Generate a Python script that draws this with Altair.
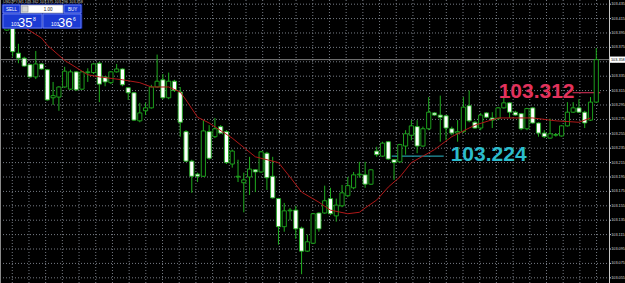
import altair as alt
import pandas as pd

# ---------------- data (USDJPY M1 candles) ----------------
candle_idx = list(range(103))
open_ = [103.399, 103.403, 103.367, 103.360, 103.351, 103.334, 103.352, 103.344, 103.305, 103.306,
         103.320, 103.317, 103.341, 103.317, 103.340, 103.340, 103.353, 103.334, 103.326, 103.341,
         103.345, 103.319, 103.312, 103.273, 103.287, 103.291, 103.320, 103.330, 103.305, 103.328,
         103.313, 103.258, 103.217, 103.199, 103.196, 103.258, 103.251, 103.265, 103.258, 103.213,
         103.195, 103.187, 103.195, 103.205, 103.202, 103.228, 103.196, 103.165, 103.126, 103.148,
         103.149, 103.124, 103.092, 103.103, 103.145, 103.145, 103.165, 103.141, 103.155, 103.169,
         103.180, 103.198, 103.198, 103.185, 103.231, 103.224, 103.244, 103.219, 103.216, 103.238,
         103.253, 103.265, 103.238, 103.262, 103.284, 103.281, 103.280, 103.262, 103.256, 103.258,
         103.294, 103.271, 103.263, 103.284, 103.277, 103.276, 103.291, 103.298, 103.285, 103.283,
         103.262, 103.291, 103.270, 103.256, 103.249, 103.253, 103.252, 103.266, 103.285, 103.291,
         103.285, 103.274, 103.299]
high = [103.406, 103.408, 103.380, 103.362, 103.352, 103.370, 103.353, 103.345, 103.327, 103.321,
        103.348, 103.344, 103.342, 103.342, 103.346, 103.353, 103.355, 103.335, 103.342, 103.352,
        103.346, 103.320, 103.313, 103.298, 103.298, 103.323, 103.365, 103.338, 103.340, 103.330,
        103.320, 103.260, 103.219, 103.201, 103.274, 103.267, 103.277, 103.267, 103.260, 103.233,
        103.219, 103.201, 103.223, 103.206, 103.231, 103.230, 103.223, 103.166, 103.159, 103.152,
        103.155, 103.126, 103.115, 103.145, 103.146, 103.183, 103.180, 103.165, 103.184, 103.195,
        103.202, 103.216, 103.216, 103.206, 103.237, 103.244, 103.245, 103.220, 103.241, 103.260,
        103.274, 103.274, 103.265, 103.306, 103.285, 103.308, 103.281, 103.265, 103.274, 103.306,
        103.315, 103.273, 103.284, 103.285, 103.285, 103.292, 103.305, 103.299, 103.287, 103.284,
        103.291, 103.292, 103.271, 103.260, 103.276, 103.256, 103.267, 103.299, 103.299, 103.303,
        103.287, 103.306, 103.374]
low = [103.398, 103.362, 103.353, 103.348, 103.333, 103.331, 103.344, 103.301, 103.295, 103.287,
       103.319, 103.316, 103.315, 103.316, 103.327, 103.338, 103.299, 103.321, 103.324, 103.340,
       103.321, 103.302, 103.273, 103.271, 103.281, 103.290, 103.319, 103.303, 103.303, 103.313,
       103.251, 103.216, 103.173, 103.188, 103.195, 103.219, 103.249, 103.255, 103.213, 103.208,
       103.188, 103.146, 103.170, 103.174, 103.201, 103.177, 103.165, 103.101, 103.119, 103.135,
       103.109, 103.060, 103.091, 103.102, 103.119, 103.144, 103.142, 103.133, 103.153, 103.167,
       103.178, 103.194, 103.180, 103.184, 103.223, 103.223, 103.219, 103.191, 103.215, 103.226,
       103.246, 103.228, 103.237, 103.260, 103.280, 103.244, 103.246, 103.253, 103.244, 103.256,
       103.271, 103.262, 103.260, 103.277, 103.263, 103.274, 103.290, 103.277, 103.280, 103.260,
       103.260, 103.269, 103.251, 103.249, 103.248, 103.251, 103.251, 103.265, 103.284, 103.284,
       103.263, 103.273, 103.298]
close = [103.403, 103.369, 103.360, 103.349, 103.334, 103.352, 103.345, 103.302, 103.308, 103.320,
         103.342, 103.341, 103.316, 103.341, 103.341, 103.352, 103.324, 103.327, 103.341, 103.345,
         103.323, 103.312, 103.274, 103.284, 103.291, 103.320, 103.328, 103.305, 103.328, 103.315,
         103.271, 103.217, 103.196, 103.196, 103.259, 103.221, 103.262, 103.256, 103.215, 103.231,
         103.196, 103.191, 103.206, 103.202, 103.230, 103.194, 103.166, 103.126, 103.148, 103.149,
         103.123, 103.092, 103.105, 103.144, 103.123, 103.162, 103.144, 103.156, 103.173, 103.183,
         103.198, 103.199, 103.185, 103.205, 103.226, 103.242, 103.220, 103.215, 103.240, 103.255,
         103.266, 103.238, 103.262, 103.285, 103.281, 103.278, 103.263, 103.256, 103.258, 103.292,
         103.273, 103.263, 103.281, 103.278, 103.274, 103.291, 103.298, 103.285, 103.281, 103.262,
         103.290, 103.270, 103.256, 103.251, 103.255, 103.254, 103.266, 103.285, 103.291, 103.285,
         103.270, 103.299, 103.358]

# moving average (dark red line)
ma_idx = [2, 3, 6, 7, 10, 14, 16, 20, 23, 25, 28, 30, 31, 33, 35, 39, 43, 47, 49, 51, 54, 56,
          59, 61, 62, 64, 66, 68, 70, 74, 77, 81, 85, 91, 95, 99, 101]
ma_val = [103.413, 103.403, 103.388, 103.378, 103.357, 103.337, 103.334, 103.330, 103.326, 103.320,
          103.320, 103.313, 103.302, 103.278, 103.270, 103.249, 103.223, 103.215, 103.195, 103.174,
          103.160, 103.149, 103.144, 103.146, 103.152, 103.163, 103.181, 103.195, 103.215, 103.233,
          103.251, 103.267, 103.277, 103.277, 103.273, 103.271, 103.277]

# horizontal level lines with their labels
level_price = [103.312, 103.224]
level_from = [97.9, 66.6]
level_to = [102.7, 75.6]
level_text_at = [85.1, 76.8]
level_label = ["103.312", "103.224"]
level_color = ["#e2325c", "#2cbccc"]

bid = 103.358
ask = 103.366
axis_labels = [round(103.055 + 0.02 * i, 3) for i in range(20)]
x_grid = [round(0.934 + 2.889 * m, 3) for m in range(36)]

GREEN = "#1fae1f"
GRID = "#767b84"

df = pd.DataFrame({"k": candle_idx, "open": open_, "high": high, "low": low, "close": close})
ma_df = pd.DataFrame({"k": ma_idx, "ma": ma_val})
lv_df = pd.DataFrame({"p": level_price, "a": level_from, "b": level_to, "t": level_text_at,
                      "lab": level_label, "c": level_color})
bid_df = pd.DataFrame({"p": [bid], "lo": [bid - 0.0043], "hi": [bid + 0.0043], "lab": [f"{bid:.3f}"]})
ylab_df = pd.DataFrame({"p": axis_labels, "lab": [f"{v:.3f}" for v in axis_labels]})
xg_df = pd.DataFrame({"k": x_grid})
one = pd.DataFrame({"a": [0]})

xs = alt.Scale(domain=[-1.19, 104.2], nice=False, zero=False)
ys = alt.Scale(domain=[103.0478, 103.4408], nice=False, zero=False)

hgrid = alt.Chart(ylab_df).mark_rule(color=GRID, strokeWidth=1, strokeDash=[1, 2]).encode(
    y=alt.Y("p:Q", scale=ys, axis=None), x=alt.value(0), x2=alt.value(609))
vgrid = alt.Chart(xg_df).mark_rule(color=GRID, strokeWidth=1, strokeDash=[1, 2]).encode(
    x=alt.X("k:Q", scale=xs, axis=None), y=alt.value(0), y2=alt.value(283))

axis_line = alt.Chart(one).mark_rule(color="#c8c8c8", strokeWidth=1).encode(
    x=alt.value(609.5), y=alt.value(0), y2=alt.value(283))
left_edge = alt.Chart(one).mark_rule(color="#8a8a8a", strokeWidth=1).encode(
    x=alt.value(0.5), y=alt.value(0), y2=alt.value(283))
axis_ticks = alt.Chart(ylab_df).mark_rule(color="#c8c8c8", strokeWidth=1).encode(
    y=alt.Y("p:Q", scale=ys, axis=None), x=alt.value(609.5), x2=alt.value(611))
axis_text = alt.Chart(ylab_df).mark_text(align="left", baseline="middle", font="Liberation Sans",
                                         fontSize=3.8, color="#d8d8d8").encode(
    y=alt.Y("p:Q", scale=ys, axis=None), x=alt.value(611.2), text="lab:N")

wicks = alt.Chart(df).mark_rule(color=GREEN, strokeWidth=1).encode(
    x=alt.X("k:Q", scale=xs, axis=None),
    y=alt.Y("low:Q", scale=ys, axis=None),
    y2="high:Q",
)

bodies = alt.Chart(df).transform_calculate(
    x1="datum.k - 0.36", x2="datum.k + 0.36"
).mark_rect(stroke=GREEN, strokeWidth=0.9).encode(
    x=alt.X("x1:Q", scale=xs, axis=None),
    x2="x2:Q",
    y=alt.Y("open:Q", scale=ys, axis=None),
    y2="close:Q",
    fill=alt.condition("datum.close >= datum.open", alt.value("#000000"), alt.value("#ffffff")),
)

bid_line = alt.Chart(bid_df).mark_rule(color="#9a9a9a", strokeWidth=0.8).encode(
    y=alt.Y("p:Q", scale=ys, axis=None), x=alt.value(0), x2=alt.value(609))

ma_line = alt.Chart(ma_df).mark_line(color="#b01818", strokeWidth=1).encode(
    x=alt.X("k:Q", scale=xs, axis=None), y=alt.Y("ma:Q", scale=ys, axis=None))

lv_lines = alt.Chart(lv_df).mark_rule(strokeWidth=1).encode(
    x=alt.X("a:Q", scale=xs, axis=None), x2="b:Q",
    y=alt.Y("p:Q", scale=ys, axis=None), color=alt.Color("c:N", scale=None))

lv_text = alt.Chart(lv_df).mark_text(align="left", baseline="middle", font="Liberation Sans",
                                     fontWeight="bold", fontSize=21, dy=-1).encode(
    x=alt.X("t:Q", scale=xs, axis=None), y=alt.Y("p:Q", scale=ys, axis=None),
    text="lab:N", color=alt.Color("c:N", scale=None))

bid_box = alt.Chart(bid_df).mark_rect(fill="#ffffff").encode(
    x=alt.value(610), x2=alt.value(625),
    y=alt.Y("hi:Q", scale=ys, axis=None), y2="lo:Q")
bid_text = alt.Chart(bid_df).mark_text(align="left", baseline="middle", font="Liberation Sans",
                                       fontSize=3.8, color="#000000").encode(
    x=alt.value(611), y=alt.Y("p:Q", scale=ys, axis=None), text="lab:N")

# one-click trading panel (top left)
def box(x1, x2, y1, y2, fill, stroke):
    return alt.Chart(one).mark_rect(fill=fill, stroke=stroke, strokeWidth=0.7).encode(
        x=alt.value(x1), x2=alt.value(x2), y=alt.value(y1), y2=alt.value(y2))

def txt(s, x, y, size, color="#ffffff", align="left", baseline="alphabetic"):
    return alt.Chart(one).mark_text(text=s, align=align, baseline=baseline, font="Liberation Sans",
                                    fontSize=size, color=color).encode(x=alt.value(x), y=alt.value(y))

bid_s, ask_s = f"{bid:.3f}", f"{ask:.3f}"
panel = [
    box(2, 82, 4, 28.5, "#0d1f9e", "#0d1f9e"),
    box(3, 20, 5, 13, "#1c3bd4", "#7f95ff"),
    box(21, 63, 5, 13, "#ffffff", "#9aa0b0"),
    box(22, 28, 6, 12, "#d8d8d8", "#a0a0a0"),
    box(64, 81, 5, 13, "#1c3bd4", "#7f95ff"),
    box(3, 42, 14, 28, "#1c3bd4", "#7f95ff"),
    box(43, 81, 14, 28, "#1c3bd4", "#7f95ff"),
    txt("SELL", 11.5, 11, 4.5, align="center"),
    txt("1.00", 48, 11, 4.5, color="#222222", align="center"),
    txt("BUY", 72.5, 11, 4.5, align="center"),
    txt(bid_s[:3], 11, 26, 5),
    txt(bid_s[4:6], 18, 27, 13),
    txt(bid_s[6], 33, 21, 5),
    txt(ask_s[:3], 51, 26, 5),
    txt(ask_s[4:6], 58, 27, 13),
    txt(ask_s[6], 73, 21, 5),
    txt("USDJPY,M1  103.362 103.375 103.296 103.358", 3, 3.2, 3.8, color="#c8c8c8"),
]

chart = alt.layer(
    hgrid, vgrid, bid_line, lv_lines, wicks, bodies, ma_line, lv_text,
    axis_line, left_edge, axis_ticks, axis_text, bid_box, bid_text, *panel
).properties(
    width=609, height=283,
    autosize=alt.AutoSizeParams(type="none"),
    padding={"left": 0, "top": 0, "right": 16, "bottom": 0},
    background="#000000",
).configure_view(stroke=None)

chart.save("out.html", embed_options={"renderer": "svg", "actions": False})
